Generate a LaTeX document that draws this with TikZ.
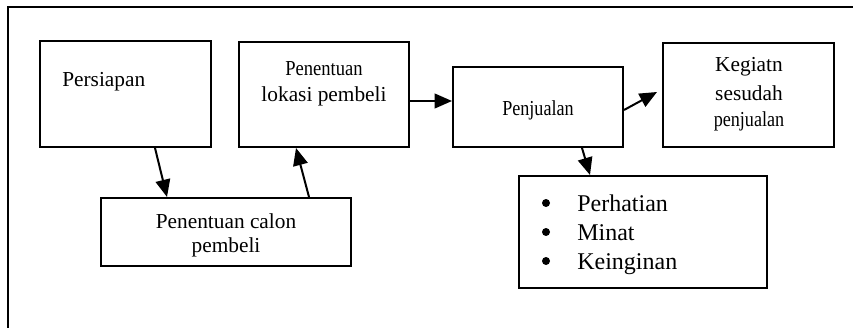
\documentclass[tikz,border=0pt]{standalone}
\usepackage{fontspec}
\setmainfont{Liberation Serif}
\usetikzlibrary{arrows.meta,fit}
\begin{document}
\begin{tikzpicture}[x=0.75pt,y=-0.75pt,
  boxnode/.style={draw,line width=1.5pt,inner sep=0pt},
  txt/.style={inner sep=0pt,anchor=base,font=\fontsize{16}{19}\selectfont},
  btxt/.style={inner sep=0pt,anchor=base west,font=\fontsize{18}{21}\selectfont},
  bul/.style={circle,fill=black,inner sep=0pt,minimum size=6pt},
  arr/.style={line width=1.5pt,-{Triangle[length=13pt,width=11pt]}},
  frame/.style={line width=1.5pt}]
\useasboundingbox (0,0) rectangle (853,328);
\draw[frame] (8,328) -- (8,7) -- (853,7);
% boxes
\node[boxnode,fit={(40,41) (211,147)}] (P) {};
\node[boxnode,fit={(239,42) (409,147)}] (L) {};
\node[boxnode,fit={(453,67) (623,147)}] (J) {};
\node[boxnode,fit={(663,43) (834,147)}] (K) {};
\node[boxnode,fit={(101,198) (351,266)}] (C) {};
\node[boxnode,fit={(519,176) (767,288)}] (B) {};
% texts
\node[txt,anchor=base west] (tP) at (62,87) {Persiapan};
\node[txt] (tL1) at (324,75) {\scalebox{0.87}[1]{Penentuan}};
\node[txt] (tL2) at (324,102) {lokasi pembeli};
\node[txt] (tJ) at (538,115) {\scalebox{0.85}[1]{Penjualan}};
\node[txt] (tK1) at (749,72) {Kegiatn};
\node[txt] (tK2) at (749,100) {sesudah};
\node[txt] (tK3) at (749,126) {\scalebox{0.85}[1]{penjualan}};
\node[txt] (tC1) at (226,228) {Penentuan calon};
\node[txt] (tC2) at (226,252) {pembeli};
\node[bul] (b1) at (546,203) {};
\node[bul] (b2) at (546,232) {};
\node[bul] (b3) at (546,261) {};
\node[btxt] (tB1) at (577,211) {Perhatian};
\node[btxt] (tB2) at (577,240) {Minat};
\node[btxt] (tB3) at (577,269) {Keinginan};
% connectors
\coordinate (k1) at (657,92);
\draw[arr] (155,0 |- P.south) -- (167,0 |- C.north);
\draw[arr] (309,0 |- C.north) -- (296,0 |- L.south);
\draw[arr] (L.east |- 0,101) -- (J.west |- 0,101);
\draw[arr] (J.east |- 0,110) -- (k1);
\draw[arr] (582,0 |- J.south) -- (590,0 |- B.north);
\end{tikzpicture}
\end{document}
